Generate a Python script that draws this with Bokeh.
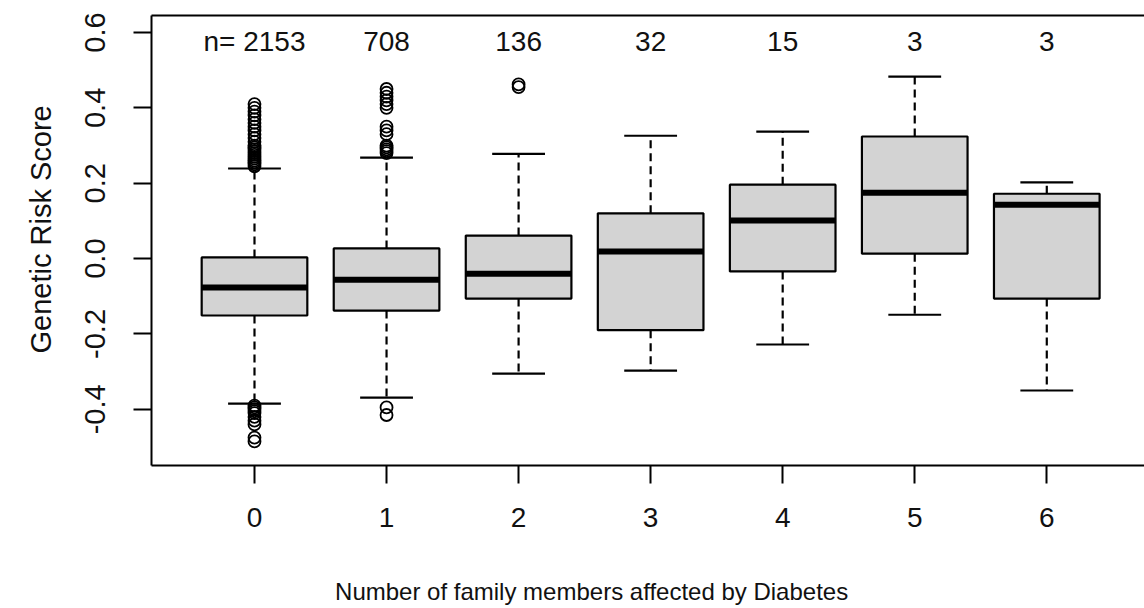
from bokeh.plotting import figure
from bokeh.layouts import column
from bokeh.models import Range1d, FixedTicker, LinearAxis, ColumnDataSource, Title
from bokeh.core.properties import value
from bokeh.embed import file_html
from bokeh.resources import INLINE

# ---- data ----
groups = [0, 1, 2, 3, 4, 5, 6]
group_labels = ["0", "1", "2", "3", "4", "5", "6"]
counts = ["n= 2153", "708", "136", "32", "15", "3", "3"]
q1 = [-0.151, -0.138, -0.106, -0.190, -0.034, 0.013, -0.106]
median = [-0.077, -0.056, -0.040, 0.019, 0.101, 0.175, 0.143]
q3 = [0.003, 0.027, 0.061, 0.120, 0.196, 0.324, 0.172]
whisker_low = [-0.385, -0.369, -0.305, -0.297, -0.228, -0.149, -0.350]
whisker_high = [0.239, 0.268, 0.278, 0.326, 0.337, 0.483, 0.202]

outliers_0 = [0.245, 0.25, 0.255, 0.26, 0.265, 0.27, 0.275, 0.28, 0.285, 0.29,
              0.295, 0.30, 0.31, 0.32, 0.33, 0.34, 0.35, 0.36, 0.37, 0.38, 0.39,
              0.40, 0.41, -0.39, -0.395, -0.40, -0.405, -0.41, -0.42, -0.43,
              -0.44, -0.475, -0.485]
outliers_1 = [0.28, 0.285, 0.29, 0.295, 0.30, 0.33, 0.34, 0.35, 0.40, 0.41,
              0.42, 0.43, 0.44, 0.45, -0.395, -0.415]
outliers_2 = [0.455, 0.462]
y_ticks = [-0.4, -0.2, 0.0, 0.2, 0.4, 0.6]
y_tick_labels = ["-0.4", "-0.2", "0.0", "0.2", "0.4", "0.6"]
x_title = "Number of family members affected by Diabetes"
y_title = "Genetic Risk Score"
count_label_y = 0.575

FONT = "Liberation Sans"
BOX_W = 0.8
CAP_W = 0.4

src = ColumnDataSource(dict(
    x=groups, q1=q1, q3=q3, med=median, lo=whisker_low, hi=whisker_high,
    cap_l=[g - CAP_W / 2 for g in groups], cap_r=[g + CAP_W / 2 for g in groups],
    box_l=[g - BOX_W / 2 for g in groups], box_r=[g + BOX_W / 2 for g in groups],
    label=counts, ly=[count_label_y] * len(groups),
))

ox, oy = [], []
for g, vals in zip(groups, [outliers_0, outliers_1, outliers_2]):
    ox += [g] * len(vals)
    oy += vals

xr = Range1d(-0.78, 6.74)
p = figure(width=1144, height=560, output_backend="svg", toolbar_location=None,
           x_range=xr, y_range=Range1d(-0.549, 0.645),
           min_border_left=149, min_border_right=0, min_border_top=15,
           min_border_bottom=95, background_fill_color="white",
           border_fill_color="white")
p.outline_line_color = None
p.xgrid.visible = False
p.ygrid.visible = False

# whiskers
p.segment(x0="x", y0="q3", x1="x", y1="hi", source=src, line_color="black",
          line_width=2.2, line_dash="8 5")
p.segment(x0="x", y0="q1", x1="x", y1="lo", source=src, line_color="black",
          line_width=2.2, line_dash="8 5")
p.segment(x0="cap_l", y0="hi", x1="cap_r", y1="hi", source=src, line_color="black", line_width=2.2)
p.segment(x0="cap_l", y0="lo", x1="cap_r", y1="lo", source=src, line_color="black", line_width=2.2)
# boxes
p.quad(left="box_l", right="box_r", bottom="q1", top="q3", source=src,
       fill_color="#d3d3d3", line_color="black", line_width=2.2)
p.segment(x0="box_l", y0="med", x1="box_r", y1="med", source=src,
          line_color="black", line_width=6, line_cap="butt")
# outliers
p.scatter(ox, oy, marker="circle", size=12, fill_color=None, line_color="black", line_width=1.8)
# counts
p.text(x="x", y="ly", text="label", source=src, text_align="center",
       text_baseline="middle", text_font=value(FONT), text_font_size="28px",
       text_color="#111111")

# axes
xa = p.xaxis[0]
xa.ticker = FixedTicker(ticks=groups)
xa.major_label_overrides = {g: s for g, s in zip(groups, group_labels)}
ya = p.yaxis[0]
ya.ticker = FixedTicker(ticks=y_ticks)
ya.major_label_overrides = {t: s for t, s in zip(y_ticks, y_tick_labels)}
ya.major_label_orientation = "vertical"

for ax in (xa, ya):
    ax.axis_line_color = "black"
    ax.axis_line_width = 2
    ax.major_tick_line_color = "black"
    ax.major_tick_line_width = 2
    ax.major_tick_out = 18
    ax.major_tick_in = 0
    ax.minor_tick_out = 0
    ax.minor_tick_in = 0
    ax.major_label_text_color = "#111111"
    ax.major_label_text_font = FONT
    ax.major_label_text_font_size = "29px" if ax is ya else "28px"

xa.major_label_standoff = 24
ya.major_label_standoff = 28

# y title as a side title, offset to where the reference has it
p.add_layout(Title(text=y_title, align="left", offset=112, standoff=48,
                   vertical_align="top", text_font=FONT, text_font_size="29px",
                   text_font_style="normal", text_color="#111111"), "left")

top = LinearAxis(ticker=FixedTicker(ticks=[]), major_label_text_font_size="0px",
                 major_tick_out=0, minor_tick_out=0, axis_line_width=2,
                 axis_line_color="black")
p.add_layout(top, "above")

# strip below the plot that carries the x title (shares the x range)
t = figure(width=1144, height=48, output_backend="svg", toolbar_location=None,
           x_range=xr, y_range=Range1d(48, 0),
           min_border_left=149, min_border_right=0,
           min_border_top=0, min_border_bottom=0)
t.axis.visible = False
t.grid.visible = False
t.outline_line_color = None
t.text(x=[2.553], y=[31], text=[x_title], text_align="center", text_baseline="middle",
       text_font=value(FONT), text_font_size="24px", text_color="#111111")

layout = column(p, t, spacing=0)
open("out.html", "w").write(file_html(layout, INLINE))
